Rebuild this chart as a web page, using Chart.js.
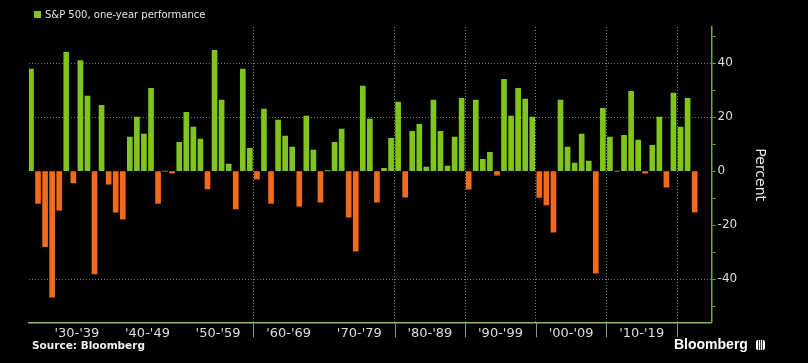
<!DOCTYPE html>
<html>
<head>
<meta charset="utf-8">
<script src="https://cdn.jsdelivr.net/npm/chart.js@4"></script>
<style>
  html, body { margin: 0; padding: 0; background: #000; }
  #wrap { position: relative; width: 808px; height: 363px; background: #000; overflow: hidden; }
  #chart { position: absolute; left: 0; top: 0; }
  .legend { position: absolute; left: 34px; top: 9px; color: #e4e4e4; font: 10px "DejaVu Sans", sans-serif; white-space: nowrap; }
  .legend i { display: inline-block; width: 7px; height: 7px; background: #7fc51e; margin-right: 4px; vertical-align: 0px; }
  .source { position: absolute; left: 32px; top: 339px; color: #f0f0f0; font: bold 10.5px "DejaVu Sans", sans-serif; }
  .brand { position: absolute; left: 674px; top: 336px; color: #fff; font: bold 14px "Liberation Sans", sans-serif; }
  .brand b { display: inline-block; width: 9px; height: 10px; border-radius: 2px; margin-left: 8px; vertical-align: -1px;
    background: linear-gradient(to right, #fff 0 2px, #333 2px 3px, #fff 3px 4px, #333 4px 5px, #fff 5px 6px, #333 6px 7px, #fff 7px); }
</style>
</head>
<body>
<div id="wrap">
  <canvas id="chart" width="808" height="363"></canvas>
  <div class="legend"><i></i>S&amp;P 500, one-year performance</div>
  <div class="source">Source: Bloomberg</div>
  <div class="brand">Bloomberg<b></b></div>
</div>
<script>
// S&P 500 calendar-year price change, percent
const years = [
  1928, 1929, 1930, 1931, 1932, 1933, 1934, 1935, 1936, 1937,
  1938, 1939, 1940, 1941, 1942, 1943, 1944, 1945, 1946, 1947,
  1948, 1949, 1950, 1951, 1952, 1953, 1954, 1955, 1956, 1957,
  1958, 1959, 1960, 1961, 1962, 1963, 1964, 1965, 1966, 1967,
  1968, 1969, 1970, 1971, 1972, 1973, 1974, 1975, 1976, 1977,
  1978, 1979, 1980, 1981, 1982, 1983, 1984, 1985, 1986, 1987,
  1988, 1989, 1990, 1991, 1992, 1993, 1994, 1995, 1996, 1997,
  1998, 1999, 2000, 2001, 2002, 2003, 2004, 2005, 2006, 2007,
  2008, 2009, 2010, 2011, 2012, 2013, 2014, 2015, 2016, 2017,
  2018, 2019, 2020, 2021, 2022
];
const returns = [
  37.8, -11.9, -28.0, -46.7, -14.4, 44.0, -4.3, 41.0, 27.8, -38.0,
  24.4, -4.8, -15.2, -17.8, 12.6, 20.0, 13.7, 30.7, -11.9, 0,
  -0.7, 10.7, 21.8, 16.3, 11.9, -6.6, 44.8, 26.3, 2.6, -14.0,
  37.8, 8.5, -3.0, 23.0, -11.9, 18.9, 13.0, 8.9, -13.0, 20.4,
  7.8, -11.5, 0.1, 10.7, 15.6, -17.0, -29.6, 31.5, 19.3, -11.5,
  1.1, 12.2, 25.6, -9.6, 14.8, 17.4, 1.5, 26.3, 14.8, 1.9,
  12.6, 27.0, -6.7, 26.3, 4.4, 7.0, -1.5, 34.0, 20.4, 30.7,
  26.7, 20.0, -9.7, -12.5, -22.6, 26.3, 8.9, 3.0, 13.7, 3.7,
  -37.8, 23.3, 12.6, 0, 13.3, 29.6, 11.5, -0.7, 9.6, 20.0,
  -5.9, 28.9, 16.3, 27.0, -15.2
];

const decadeLabels = ["'30-'39", "'40-'49", "'50-'59", "'60-'69", "'70-'79", "'80-'89", "'90-'99", "'00-'09", "'10-'19"];
const decadeCenters = [1934.5, 1944.5, 1954.5, 1964.5, 1974.5, 1984.5, 1994.5, 2004.5, 2014.5];
// decade boundaries that carry a dotted line / tick in the original
const shownBoundaries = [1959.5, 1979.5, 1989.5, 1999.5, 2009.5, 2019.5];
const yTickValues = [-50, -40, -30, -20, -10, 0, 10, 20, 30, 40, 50];
const yLabelValues = [-40, -20, 0, 20, 40];
const yGridValues = [-40, 20, 40];

const GREEN = "#7fc51e";
const ORANGE = "#f26a1b";
const GRID = "#777777";
const AXIS = "#6fae2c";
const TICK = "#7f9a6a";

const points = years.map((yr, i) => ({ x: yr, y: returns[i] }));

// boundary line i (grid.offset) sits half a decade before tick i; the extra last one after the last tick
function boundaryFor(index) {
  if (index === undefined || index >= decadeCenters.length) return decadeCenters[decadeCenters.length - 1] + 5;
  return decadeCenters[index] - 5;
}

// short marks under the x axis at the shown decade boundaries
const decadeTickMarks = {
  id: "decadeTickMarks",
  afterDraw(chart) {
    const { ctx, chartArea, scales } = chart;
    ctx.save();
    ctx.strokeStyle = TICK;
    ctx.lineWidth = 1;
    shownBoundaries.forEach(b => {
      const px = Math.round(scales.x.getPixelForValue(b)) + 0.5;
      ctx.beginPath();
      ctx.moveTo(px, chartArea.bottom);
      ctx.lineTo(px, chartArea.bottom + 15);
      ctx.stroke();
    });
    ctx.restore();
  }
};

new Chart(document.getElementById("chart"), {
  type: "bar",
  data: {
    datasets: [{
      label: "S&P 500, one-year performance",
      data: points,
      backgroundColor: returns.map(v => v >= 0 ? GREEN : ORANGE),
      borderWidth: 0,
      barThickness: 5
    }]
  },
  plugins: [decadeTickMarks],
  options: {
    responsive: false,
    animation: false,
    layout: { padding: { left: 29, right: 40, top: 27, bottom: 19 } },
    plugins: {
      legend: { display: false },
      tooltip: { enabled: false }
    },
    scales: {
      x: {
        type: "linear",
        position: "bottom",
        offset: false,
        min: 1927.72,
        max: 2024.4,
        afterBuildTicks: (scale) => {
          scale.ticks = decadeCenters.map(v => ({ value: v }));
        },
        grid: {
          offset: true,
          drawTicks: false,
          color: (ctx) => shownBoundaries.includes(boundaryFor(ctx.index)) ? GRID : "transparent"
        },
        border: { color: "#8cb868", width: 1.5, dash: [1, 2] },
        ticks: {
          autoSkip: false,
          maxRotation: 0,
          padding: 3,
          color: "#dcdcdc",
          font: { family: "DejaVu Sans", size: 13 },
          callback: (value, index) => decadeLabels[index]
        }
      },
      y: {
        position: "right",
        min: -56,
        max: 53.4,
        afterBuildTicks: (scale) => {
          scale.ticks = yTickValues.map(v => ({ value: v }));
        },
        grid: {
          color: (ctx) => ctx.tick && yGridValues.includes(ctx.tick.value) ? GRID : "transparent",
          tickColor: AXIS,
          tickBorderDash: [],
          tickLength: 4
        },
        border: { color: AXIS, width: 1.5, dash: [1, 2] },
        ticks: {
          padding: 2,
          color: "#dcdcdc",
          font: { family: "DejaVu Sans", size: 12 },
          callback: (value) => yLabelValues.includes(value) ? String(value) : ""
        },
        title: {
          display: true,
          text: "Percent",
          color: "#e8e8e8",
          font: { family: "DejaVu Sans", size: 14 },
          padding: { top: 0, bottom: 12 }
        }
      }
    }
  }
});
</script>
</body>
</html>
